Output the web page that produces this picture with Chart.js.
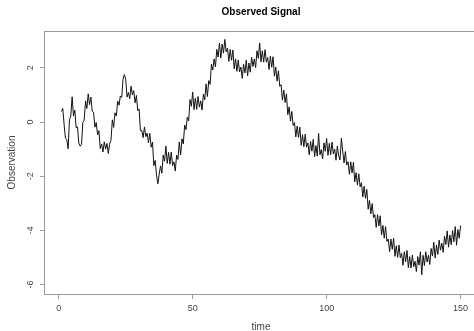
<!DOCTYPE html>
<html>
<head>
<meta charset="utf-8">
<script src="https://cdn.jsdelivr.net/npm/chart.js@4.4.1/dist/chart.umd.min.js"></script>
<style>
html, body { margin: 0; padding: 0; background: #fff; overflow: hidden; }
#wrap { width: 522px; height: 331px; }
</style>
</head>
<body>
<div id="wrap"><canvas id="chart" width="522" height="331"></canvas></div>
<script>
const time = [
  1, 1.5, 2, 2.5, 3, 3.5, 4, 4.5, 5, 5.5, 6, 6.5, 7, 7.5, 8, 8.5, 9, 9.5, 10, 10.5,
  11, 11.5, 12, 12.5, 13, 13.5, 14, 14.5, 15, 15.5, 16, 16.5, 17, 17.5, 18, 18.5, 19, 19.5, 20, 20.5,
  21, 21.5, 22, 22.5, 23, 23.5, 24, 24.5, 25, 25.5, 26, 26.5, 27, 27.5, 28, 28.5, 29, 29.5, 30, 30.5,
  31, 31.5, 32, 32.5, 33, 33.5, 34, 34.5, 35, 35.5, 36, 36.5, 37, 37.5, 38, 38.5, 39, 39.5, 40, 40.5,
  41, 41.5, 42, 42.5, 43, 43.5, 44, 44.5, 45, 45.5, 46, 46.5, 47, 47.5, 48, 48.5, 49, 49.5, 50, 50.5,
  51, 51.5, 52, 52.5, 53, 53.5, 54, 54.5, 55, 55.5, 56, 56.5, 57, 57.5, 58, 58.5, 59, 59.5, 60, 60.5,
  61, 61.5, 62, 62.5, 63, 63.5, 64, 64.5, 65, 65.5, 66, 66.5, 67, 67.5, 68, 68.5, 69, 69.5, 70, 70.5,
  71, 71.5, 72, 72.5, 73, 73.5, 74, 74.5, 75, 75.5, 76, 76.5, 77, 77.5, 78, 78.5, 79, 79.5, 80, 80.5,
  81, 81.5, 82, 82.5, 83, 83.5, 84, 84.5, 85, 85.5, 86, 86.5, 87, 87.5, 88, 88.5, 89, 89.5, 90, 90.5,
  91, 91.5, 92, 92.5, 93, 93.5, 94, 94.5, 95, 95.5, 96, 96.5, 97, 97.5, 98, 98.5, 99, 99.5, 100, 100.5,
  101, 101.5, 102, 102.5, 103, 103.5, 104, 104.5, 105, 105.5, 106, 106.5, 107, 107.5, 108, 108.5, 109, 109.5, 110, 110.5,
  111, 111.5, 112, 112.5, 113, 113.5, 114, 114.5, 115, 115.5, 116, 116.5, 117, 117.5, 118, 118.5, 119, 119.5, 120, 120.5,
  121, 121.5, 122, 122.5, 123, 123.5, 124, 124.5, 125, 125.5, 126, 126.5, 127, 127.5, 128, 128.5, 129, 129.5, 130, 130.5,
  131, 131.5, 132, 132.5, 133, 133.5, 134, 134.5, 135, 135.5, 136, 136.5, 137, 137.5, 138, 138.5, 139, 139.5, 140, 140.5,
  141, 141.5, 142, 142.5, 143, 143.5, 144, 144.5, 145, 145.5, 146, 146.5, 147, 147.5, 148, 148.5, 149, 149.5, 150
];

const observation = [
  0.39, 0.50, -0.08, -0.60, -0.64, -0.99, 0.08, 0.22, 0.93, 0.22, 0.44, -0.21, -0.18, -0.78, -0.89, -0.82, -0.02, 0.07, 0.78, 0.50,
  1.04, 0.64, 0.92, 0.40, 0.36, -0.19, -0.02, -0.48, -0.32, -0.98, -0.81, -1.11, -0.73, -1.00, -0.79, -1.16, -0.82, -0.68, 0.08, -0.20,
  0.34, 0.22, 0.77, 0.62, 0.96, 0.91, 1.58, 1.75, 1.58, 0.92, 1.09, 0.86, 1.32, 1.00, 1.16, 0.71, 0.98, 0.42, 0.48, -0.32,
  -0.31, -0.58, -0.18, -0.54, -0.41, -0.77, -0.42, -0.93, -0.74, -1.61, -1.42, -1.96, -2.28, -1.93, -1.62, -1.89, -1.22, -1.45, -0.89, -1.53,
  -1.12, -1.56, -1.11, -1.61, -1.47, -1.81, -1.22, -1.38, -0.74, -1.21, -0.62, -0.81, -0.11, -0.28, 0.18, 0.04, 0.83, 0.58, 1.11, 0.46,
  0.88, 0.47, 0.94, 0.55, 0.78, 0.44, 1.03, 0.82, 1.41, 0.94, 1.53, 1.39, 2.14, 1.92, 2.33, 2.04, 2.68, 2.40, 2.91, 2.36,
  2.88, 2.54, 3.05, 2.59, 2.73, 2.24, 2.68, 2.28, 2.66, 1.96, 2.33, 1.87, 2.29, 1.85, 2.03, 1.61, 2.13, 1.81, 2.28, 1.70,
  2.18, 1.84, 2.39, 2.05, 2.33, 2.01, 2.63, 2.35, 2.92, 2.22, 2.63, 2.21, 2.67, 2.21, 2.38, 1.94, 2.43, 2.02, 2.41, 1.69,
  2.03, 1.51, 1.89, 1.32, 1.38, 0.81, 1.18, 0.72, 1.04, 0.27, 0.56, 0.03, 0.39, -0.13, -0.02, -0.55, -0.15, -0.57, -0.19, -0.86,
  -0.47, -0.91, -0.45, -0.93, -0.77, -1.21, -0.72, -1.08, -0.64, -1.28, -0.87, -1.26, -0.42, -1.21, -1.02, -1.36, -0.77, -1.08, -0.61, -1.23,
  -0.79, -1.21, -0.74, -1.18, -1.00, -1.41, -0.89, -1.25, -1.40, -0.60, -1.07, -1.51, -1.09, -1.59, -1.47, -1.93, -1.47, -1.88, -1.49, -2.21,
  -1.87, -2.33, -1.91, -2.39, -2.24, -2.77, -2.37, -2.82, -2.49, -3.22, -2.89, -3.39, -3.01, -3.53, -3.42, -3.89, -3.42, -3.84, -3.46, -4.17,
  -3.82, -4.29, -3.86, -4.41, -4.32, -4.79, -4.32, -4.70, -4.29, -4.96, -4.57, -5.00, -4.54, -5.01, -4.85, -5.29, -4.79, -5.16, -4.74, -5.38,
  -4.97, -5.39, -4.91, -5.34, -5.14, -5.52, -4.97, -5.28, -4.79, -5.64, -4.92, -5.30, -4.79, -5.17, -4.92, -5.26, -4.67, -4.95, -4.44, -5.02,
  -4.54, -4.89, -4.36, -4.73, -4.47, -4.81, -4.22, -4.52, -4.02, -4.62, -4.17, -4.53, -4.01, -4.42, -3.86, -4.55, -3.97, -4.29, -3.82
];

const xTicks = [0, 50, 100, 150];
const yTicks = [-6, -4, -2, 0, 2];

const FONT = 'Liberation Sans, Arial, sans-serif';
const AXIS_GREY = '#9a9a9a';
const TEXT_GREY = '#444';

// R style box round the plot region (right side falls outside the window)
const boxPlugin = {
  id: 'plotBox',
  afterDraw(chart) {
    const { ctx, chartArea: a } = chart;
    ctx.save();
    ctx.strokeStyle = AXIS_GREY;
    ctx.lineWidth = 1;
    ctx.strokeRect(Math.round(a.left) + 0.5, Math.round(a.top) + 0.5,
      Math.round(a.right - a.left), Math.round(a.bottom - a.top));
    ctx.restore();
  }
};

new Chart(document.getElementById('chart'), {
  type: 'line',
  data: {
    datasets: [{
      label: 'Observation',
      data: time.map((t, i) => ({ x: t, y: observation[i] })),
      borderColor: '#111',
      borderWidth: 1,
      pointRadius: 0,
      tension: 0,
      fill: false
    }]
  },
  options: {
    responsive: false,
    animation: false,
    layout: { padding: 0 },
    plugins: {
      legend: { display: false },
      tooltip: { enabled: false },
      title: {
        display: true,
        text: 'Observed Signal',
        color: '#000',
        font: { family: FONT, size: 10, weight: 'bold', lineHeight: 1.2 },
        padding: { top: 6, bottom: 13 }
      }
    },
    scales: {
      x: {
        type: 'linear',
        min: -5.5,
        max: 156.5,
        afterBuildTicks: s => { s.ticks = xTicks.map(v => ({ value: v })); },
        afterFit: s => { s.height = 37; },
        border: { display: false },
        grid: { drawOnChartArea: false, drawTicks: true, tickLength: 5, color: AXIS_GREY },
        ticks: { maxRotation: 0, padding: 4, color: TEXT_GREY, font: { family: FONT, size: 9 } },
        title: {
          display: true,
          text: 'time',
          color: TEXT_GREY,
          font: { family: FONT, size: 10, lineHeight: 1 },
          padding: { top: 0, bottom: -1 }
        }
      },
      y: {
        min: -6.35,
        max: 3.36,
        afterBuildTicks: s => { s.ticks = yTicks.map(v => ({ value: v })); },
        afterFit: s => { s.width = 44; },
        border: { display: false },
        grid: { drawOnChartArea: false, drawTicks: true, tickLength: 4, color: AXIS_GREY },
        ticks: {
          minRotation: 90, maxRotation: 90, crossAlign: 'center', padding: 5,
          color: TEXT_GREY, font: { family: FONT, size: 9 }
        },
        title: {
          display: true,
          text: 'Observation',
          color: TEXT_GREY,
          font: { family: FONT, size: 10, lineHeight: 1.2 },
          padding: { top: 6, bottom: 0 }
        }
      },
      // empty right-hand axis so the plot region (and the centred title) line up with the reference
      y2: {
        position: 'right',
        display: true,
        afterFit: s => { s.width = 44; },
        border: { display: false },
        grid: { display: false },
        ticks: { display: false }
      }
    }
  },
  plugins: [boxPlugin]
});
</script>
</body>
</html>
